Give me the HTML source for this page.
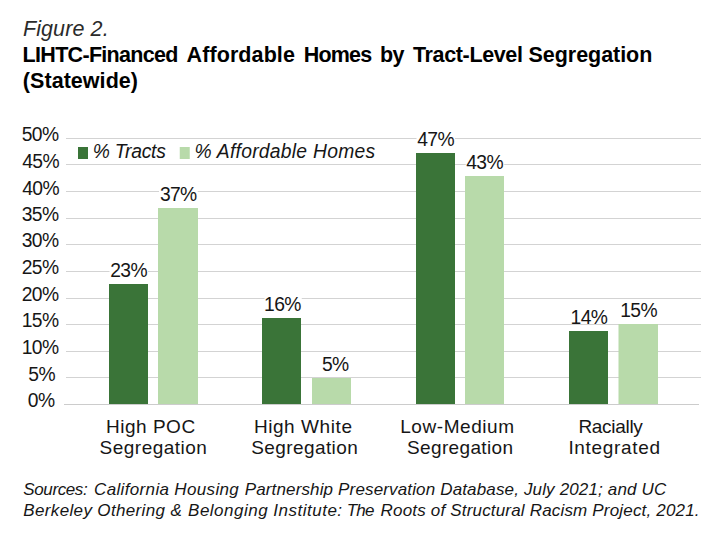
<!DOCTYPE html>
<html><head><meta charset="utf-8"><title>Figure 2</title>
<style>
html,body{margin:0;padding:0;background:#fff;}
body{width:724px;height:543px;position:relative;overflow:hidden;font-family:"Liberation Sans",sans-serif;color:#161616;}
.t{position:absolute;white-space:nowrap;line-height:1;}
.g{position:absolute;height:1px;background:#d3d3d3;}
.b{position:absolute;}
</style></head><body>
<svg class="b" style="left:0;top:0;" width="724" height="543" viewBox="0 0 724 543">
<rect x="66" y="138" width="635" height="1" fill="#d3d3d3"/>
<rect x="66" y="164" width="635" height="1" fill="#d3d3d3"/>
<rect x="66" y="191" width="635" height="1" fill="#d3d3d3"/>
<rect x="66" y="218" width="635" height="1" fill="#d3d3d3"/>
<rect x="66" y="244" width="635" height="1" fill="#d3d3d3"/>
<rect x="66" y="271" width="635" height="1" fill="#d3d3d3"/>
<rect x="66" y="298" width="635" height="1" fill="#d3d3d3"/>
<rect x="66" y="324" width="635" height="1" fill="#d3d3d3"/>
<rect x="66" y="351" width="635" height="1" fill="#d3d3d3"/>
<rect x="66" y="377" width="635" height="1" fill="#d3d3d3"/>
<rect x="64" y="404" width="635" height="1" fill="#cccccc"/>
<rect x="109.5" y="263" width="38.5" height="14" fill="#fff"/>
<rect x="159.0" y="187" width="38.75" height="14" fill="#fff"/>
<rect x="264.5" y="297" width="37.25" height="14" fill="#fff"/>
<rect x="322.0" y="357" width="27.19999999999999" height="14" fill="#fff"/>
<rect x="416.5" y="132" width="38.5" height="14" fill="#fff"/>
<rect x="465.75" y="155" width="38.5" height="14" fill="#fff"/>
<rect x="571.25" y="310" width="37.25" height="14" fill="#fff"/>
<rect x="620.5" y="303" width="37.5" height="14" fill="#fff"/>
<rect x="109" y="284" width="39" height="120" fill="#3a7438"/>
<rect x="158" y="208" width="40" height="196" fill="#b8daaa"/>
<rect x="262" y="318" width="39" height="86" fill="#3a7438"/>
<rect x="312" y="378" width="39" height="26" fill="#b8daaa"/>
<rect x="416" y="153" width="39" height="251" fill="#3a7438"/>
<rect x="465" y="176" width="39" height="228" fill="#b8daaa"/>
<rect x="569" y="331" width="39" height="73" fill="#3a7438"/>
<rect x="618.5" y="324" width="39.5" height="80" fill="#b8daaa"/>
<rect x="78" y="147" width="10" height="12" fill="#3a7438"/>
<rect x="179.75" y="147" width="10" height="12" fill="#b8daaa"/>
</svg>
<div class="t" id="fig" style="left:22.90px;top:19px;font-size:21.5px;letter-spacing:0.112px;font-style:italic;color:#2b2b2b;">Figure 2.</div>
<div class="t" id="t1a" style="left:22.60px;top:45px;font-size:21.5px;letter-spacing:-0.692px;font-weight:bold;color:#000;">LIHTC-Financed</div>
<div class="t" id="t1b" style="left:186.50px;top:45px;font-size:21.5px;letter-spacing:0.100px;font-weight:bold;color:#000;">Affordable</div>
<div class="t" id="t1c" style="left:303.65px;top:45px;font-size:21.5px;letter-spacing:-0.787px;font-weight:bold;color:#000;">Homes</div>
<div class="t" id="t1d" style="left:380.05px;top:45px;font-size:21.5px;letter-spacing:-0.800px;font-weight:bold;color:#000;">by</div>
<div class="t" id="t1e" style="left:413.00px;top:45px;font-size:21.5px;letter-spacing:-0.360px;font-weight:bold;color:#000;">Tract-Level</div>
<div class="t" id="t1f" style="left:528.55px;top:45px;font-size:21.5px;letter-spacing:-0.045px;font-weight:bold;color:#000;">Segregation</div>
<div class="t" id="t2" style="left:22.85px;top:71px;font-size:21.5px;letter-spacing:0.045px;font-weight:bold;color:#000;">(Statewide)</div>
<div class="t" id="y0" style="left:27.85px;top:391px;font-size:19.3px;letter-spacing:-0.600px;">0%</div>
<div class="t" id="y1" style="left:28.35px;top:365px;font-size:19.3px;letter-spacing:-0.600px;">5%</div>
<div class="t" id="y2" style="left:21.75px;top:338px;font-size:19.3px;letter-spacing:-0.600px;">10%</div>
<div class="t" id="y3" style="left:21.75px;top:311px;font-size:19.3px;letter-spacing:-0.600px;">15%</div>
<div class="t" id="y4" style="left:21.75px;top:285px;font-size:19.3px;letter-spacing:-0.600px;">20%</div>
<div class="t" id="y5" style="left:21.75px;top:258px;font-size:19.3px;letter-spacing:-0.600px;">25%</div>
<div class="t" id="y6" style="left:21.75px;top:231px;font-size:19.3px;letter-spacing:-0.600px;">30%</div>
<div class="t" id="y7" style="left:21.75px;top:205px;font-size:19.3px;letter-spacing:-0.600px;">35%</div>
<div class="t" id="y8" style="left:22.25px;top:179px;font-size:19.3px;letter-spacing:-0.600px;">40%</div>
<div class="t" id="y9" style="left:22.25px;top:152px;font-size:19.3px;letter-spacing:-0.600px;">45%</div>
<div class="t" id="y10" style="left:21.75px;top:125px;font-size:19.3px;letter-spacing:-0.600px;">50%</div>
<div class="t" id="d0" style="left:110.25px;top:261px;font-size:19.3px;letter-spacing:-0.600px;">23%</div>
<div class="t" id="d1" style="left:159.88px;top:185px;font-size:19.3px;letter-spacing:-0.600px;">37%</div>
<div class="t" id="d2" style="left:264.12px;top:295px;font-size:19.3px;letter-spacing:-0.600px;">16%</div>
<div class="t" id="d3" style="left:322.00px;top:355px;font-size:19.3px;letter-spacing:-0.600px;">5%</div>
<div class="t" id="d4" style="left:417.25px;top:130px;font-size:19.3px;letter-spacing:-0.600px;">47%</div>
<div class="t" id="d5" style="left:466.25px;top:153px;font-size:19.3px;letter-spacing:-0.600px;">43%</div>
<div class="t" id="d6" style="left:570.62px;top:308px;font-size:19.3px;letter-spacing:-0.600px;">14%</div>
<div class="t" id="d7" style="left:620.25px;top:301px;font-size:19.3px;letter-spacing:-0.600px;">15%</div>
<div class="t" id="l1" style="left:92.65px;top:142px;font-size:19.3px;letter-spacing:-0.193px;font-style:italic;">% Tracts</div>
<div class="t" id="l2" style="left:194.50px;top:142px;font-size:19.3px;letter-spacing:0.265px;font-style:italic;">% Affordable Homes</div>
<div class="t" id="c0" style="left:106.00px;top:417px;font-size:19px;letter-spacing:0.514px;">High POC</div>
<div class="t" id="c1" style="left:99.62px;top:438px;font-size:19px;letter-spacing:0.473px;">Segregation</div>
<div class="t" id="c2" style="left:253.88px;top:417px;font-size:19px;letter-spacing:0.575px;">High White</div>
<div class="t" id="c3" style="left:251.25px;top:438px;font-size:19px;letter-spacing:0.405px;">Segregation</div>
<div class="t" id="c4" style="left:400.25px;top:417px;font-size:19px;letter-spacing:0.550px;">Low-Medium</div>
<div class="t" id="c5" style="left:407.00px;top:438px;font-size:19px;letter-spacing:0.360px;">Segregation</div>
<div class="t" id="c6" style="left:578.38px;top:417px;font-size:19px;letter-spacing:-0.289px;">Racially</div>
<div class="t" id="c7" style="left:568.38px;top:438px;font-size:19px;letter-spacing:0.675px;">Integrated</div>
<div class="t" id="s1a" style="left:23.30px;top:481px;font-size:17px;letter-spacing:-0.386px;font-style:italic;">Sources:</div>
<div class="t" id="s1b" style="left:94.05px;top:481px;font-size:17px;letter-spacing:0.344px;font-style:italic;">California Housing</div>
<div class="t" id="s1c" style="left:244.65px;top:481px;font-size:17px;letter-spacing:0.150px;font-style:italic;">Partnership Preservation Database, July 2021; and UC</div>
<div class="t" id="s2a" style="left:23.30px;top:502px;font-size:17px;letter-spacing:0.350px;font-style:italic;">Berkeley Othering &amp;</div>
<div class="t" id="s2b" style="left:188.05px;top:502px;font-size:17px;letter-spacing:0.497px;font-style:italic;">Belonging Institute:</div>
<div class="t" id="s2d" style="left:346.70px;top:502px;font-size:17px;letter-spacing:-0.800px;font-style:italic;">The</div>
<div class="t" id="s2c" style="left:380.60px;top:502px;font-size:17px;letter-spacing:0.180px;font-style:italic;">Roots of Structural Racism Project, 2021.</div>
</body></html>
